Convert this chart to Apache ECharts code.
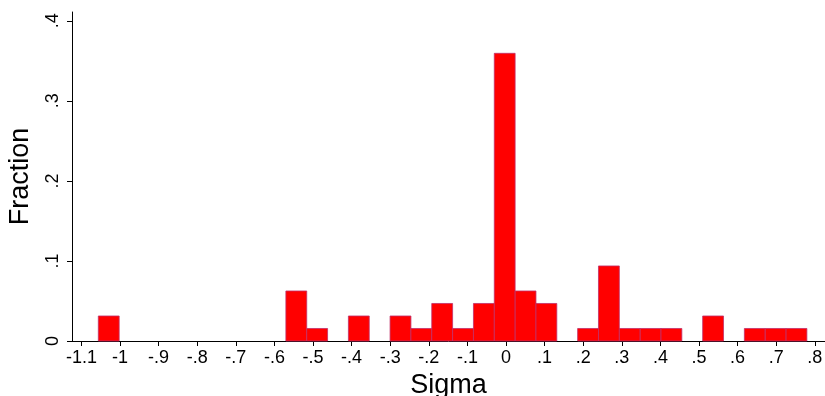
<!DOCTYPE html>
<html>
<head>
<meta charset="utf-8">
<script src="https://cdn.jsdelivr.net/npm/echarts@6/dist/echarts.min.js"></script>
<style>html,body{margin:0;padding:0;background:#fff}#c{width:825px;height:396px}</style>
</head>
<body>
<div id="c"></div>
<script>
// Histogram bins (Sigma)
var binStart = -1.0562;
var binWidth = 0.05399;
var fractions = [
  0.03125, 0, 0, 0, 0, 0, 0, 0, 0, 0.0625,
  0.015625, 0, 0.03125, 0, 0.03125, 0.015625, 0.046875, 0.015625, 0.046875, 0.359375,
  0.0625, 0.046875, 0, 0.015625, 0.09375, 0.015625, 0.015625, 0.015625, 0, 0.03125,
  0, 0.015625, 0.015625, 0.015625
];
var xTicks = [-1.1, -1, -0.9, -0.8, -0.7, -0.6, -0.5, -0.4, -0.3, -0.2, -0.1, 0, 0.1, 0.2, 0.3, 0.4, 0.5, 0.6, 0.7, 0.8];
var yTicks = [0, 0.1, 0.2, 0.3, 0.4];

function stataFmt(v) {
  var s = String(+Number(v).toFixed(1));
  if (s === '0') return '0';
  return s.replace('0.', '.');
}

var data = fractions.map(function (f, i) {
  return [binStart + i * binWidth, binStart + (i + 1) * binWidth, f];
}).filter(function (d) { return d[2] > 0; });

var font = 'Liberation Sans, Arial, sans-serif';
var chart = echarts.init(document.getElementById('c'), null, {renderer: 'canvas'});
chart.setOption({
  animation: false,
  backgroundColor: '#fff',
  grid: {left: 72, right: 0, top: 12, bottom: 55, outerBoundsMode: 'none', containLabel: false},
  xAxis: {
    type: 'value', min: -1.1244, max: 0.8264,
    name: 'Sigma', nameLocation: 'middle', nameGap: 30,
    nameTextStyle: {fontFamily: font, fontSize: 27, color: '#000'},
    splitLine: {show: false},
    axisLine: {show: true, onZero: false, lineStyle: {color: '#000', width: 1}},
    axisTick: {show: true, length: 5, customValues: xTicks, lineStyle: {color: '#000'}},
    axisLabel: {customValues: xTicks, formatter: stataFmt, margin: 8,
      fontFamily: font, fontSize: 18, color: '#000'}
  },
  yAxis: {
    type: 'value', min: 0, max: 0.411,
    name: 'Fraction', nameLocation: 'middle', nameGap: 38,
    nameTextStyle: {fontFamily: font, fontSize: 27, color: '#000'},
    splitLine: {show: false},
    axisLine: {show: true, onZero: false, lineStyle: {color: '#000', width: 1}},
    axisTick: {show: true, length: 5, customValues: yTicks, lineStyle: {color: '#000'}},
    axisLabel: {customValues: yTicks, formatter: stataFmt, rotate: 90, margin: 10,
      fontFamily: font, fontSize: 18, color: '#000'}
  },
  series: [{
    type: 'custom',
    data: data,
    encode: {x: [0, 1], y: 2},
    renderItem: function (params, api) {
      var p0 = api.coord([api.value(0), api.value(2)]);
      var p1 = api.coord([api.value(1), 0]);
      return {
        type: 'rect',
        shape: {x: p0[0], y: p0[1], width: p1[0] - p0[0], height: p1[1] - p0[1]},
        style: {fill: '#ff0000', stroke: '#c0306a', lineWidth: 0.8}
      };
    }
  }]
});
</script>
</body>
</html>
